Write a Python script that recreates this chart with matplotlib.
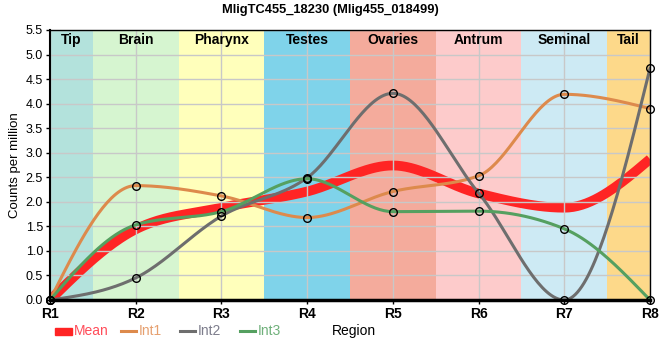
import numpy as np
import matplotlib
matplotlib.use("Agg")
from matplotlib import pyplot as plt
from matplotlib.patches import Rectangle
from matplotlib.lines import Line2D

plt.rcParams['font.family'] = ['Liberation Sans', 'DejaVu Sans']

regions = ['R1', 'R2', 'R3', 'R4', 'R5', 'R6', 'R7', 'R8']
mean = [0.0, 1.44, 1.88, 2.21, 2.74, 2.17, 1.88, 2.87]
int1 = [0.0, 2.33, 2.12, 1.68, 2.21, 2.53, 4.19, 3.90]
int2 = [0.0, 0.45, 1.71, 2.49, 4.21, 2.18, 0.0, 4.72]
int3 = [0.0, 1.53, 1.80, 2.47, 1.80, 1.81, 1.45, 0.0]

tissues = ['Tip', 'Brain', 'Pharynx', 'Testes', 'Ovaries', 'Antrum', 'Seminal', 'Tail']
tissue_colors = ['#b3e2dc', '#d6f5d0', '#ffffbb', '#7fd3ea', '#f4ab9c', '#fdcbcb', '#cdeaf4', '#fdd98a']

c_mean = '#ff2424'
c_int1 = '#dd8a4c'
c_int2 = '#6e6e6e'
c_int3 = '#55a060'


def monotone(x, y, n=40):
    # d3 curveMonotoneX style
    x = np.asarray(x, float)
    y = np.asarray(y, float)
    h = np.diff(x)
    s = np.diff(y) / h
    t = np.zeros(len(x))
    for i in range(1, len(x) - 1):
        p = (s[i - 1] * h[i] + s[i] * h[i - 1]) / (h[i - 1] + h[i])
        t[i] = (np.sign(s[i - 1]) + np.sign(s[i])) * min(abs(s[i - 1]), abs(s[i]), 0.5 * abs(p))
    t[0] = (3 * s[0] - t[1]) / 2
    t[-1] = (3 * s[-1] - t[-2]) / 2
    xs, ys = [], []
    for i in range(len(x) - 1):
        u = np.linspace(0, 1, n)
        dx = h[i]
        p0, p3 = y[i], y[i + 1]
        p1 = y[i] + dx / 3 * t[i]
        p2 = y[i + 1] - dx / 3 * t[i + 1]
        yy = (1 - u) ** 3 * p0 + 3 * (1 - u) ** 2 * u * p1 + 3 * (1 - u) * u ** 2 * p2 + u ** 3 * p3
        xx = x[i] + dx * u
        xs.extend(xx)
        ys.extend(yy)
    return np.array(xs), np.array(ys)


W, H = 660, 360
fig = plt.figure(figsize=(6.6, 3.6), dpi=100)
ax = fig.add_axes([50 / W, 60 / H, 600 / W, 270 / H])

xpos = np.arange(len(regions))
for i, (name, col) in enumerate(zip(tissues, tissue_colors)):
    ax.axvspan(i - 0.5, i + 0.5, color=col, lw=0, zorder=0)
    xc = 0.25 if i == 0 else (6.75 if i == 7 else i)
    ax.text(xc, 5.43, name, ha='center', va='top', fontsize=10, fontweight='bold', zorder=5)

ax.set_xlim(0, 7)
ax.set_ylim(0, 5.5)
ax.set_xticks(xpos)
ax.set_xticklabels(regions, fontsize=10, fontweight='bold')
ax.set_yticks(np.arange(0, 5.51, 0.5))
ax.set_yticklabels(['%.1f' % v for v in np.arange(0, 5.51, 0.5)], fontsize=9)
ax.grid(True, color='#c8c8c8', lw=1, zorder=1)
ax.set_axisbelow(False)
for sp in ax.spines.values():
    sp.set_color('black')
    sp.set_linewidth(1)
    sp.set_zorder(6)
ax.spines['bottom'].set_linewidth(2.5)
ax.spines['left'].set_linewidth(1.5)
ax.tick_params(length=3, width=1, pad=2)

xm, ym = monotone(xpos, mean)
ax.plot(xm, ym, color=c_mean, lw=7, solid_capstyle='butt', zorder=2)
for vals, col in [(int1, c_int1), (int2, c_int2), (int3, c_int3)]:
    xs, ys = monotone(xpos, vals)
    ax.plot(xs, ys, color=col, lw=2.2, zorder=3)
    ax.plot(xpos, vals, 'o', ms=5.5, mfc='none', mec='black', mew=1, zorder=4, clip_on=False)

fig.text(15 / W, 1 - 165 / H, 'Counts per million', fontsize=9.5, rotation=90,
         ha='center', va='center')
fig.text(332 / W, 1 - 331 / H, 'Region', fontsize=10, ha='left', va='center')
fig.text(330 / W, 1 - 10 / H, 'MligTC455_18230 (Mlig455_018499)', fontsize=9.3,
         fontweight='bold', ha='center', va='center')

# legend, placed by hand
ly = 1 - 331 / H
fig.patches.append(Rectangle((55 / W, ly - 3.5 / H), 17 / W, 7 / H, color=c_mean,
                             transform=fig.transFigure, figure=fig))
fig.text(74 / W, ly, 'Mean', color='#ff4d5a', fontsize=10, ha='left', va='center')
for x0, lab, col, tcol in [(121, 'Int1', c_int1, '#e6a070'), (180, 'Int2', c_int2, '#7d7d8c'),
                           (240, 'Int3', c_int3, '#6fb07a')]:
    fig.lines.append(Line2D([x0 / W, (x0 + 15) / W], [ly, ly], color=col, lw=2.2,
                            transform=fig.transFigure, figure=fig))
    fig.text((x0 + 18) / W, ly, lab, color=tcol, fontsize=10, ha='left', va='center')

fig.savefig('out.png', dpi=100)
